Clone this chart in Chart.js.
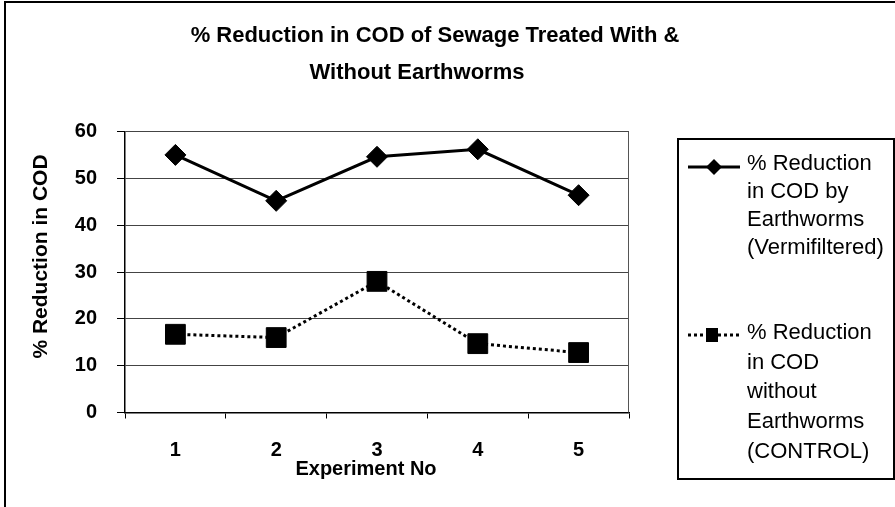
<!DOCTYPE html>
<html><head><meta charset="utf-8">
<script src="https://cdn.jsdelivr.net/npm/chart.js@4"></script>
<style>html,body{margin:0;padding:0;background:#fff;} #wrap{width:895px;height:507px;position:relative;}</style>
</head><body><div id="wrap"><canvas id="c" width="895" height="507"></canvas></div>
<script>
const categories = ['1', '2', '3', '4', '5'];
const withEarthworms = [55.0, 45.2, 54.6, 56.2, 46.4];
const controlValues = [16.7, 16.0, 28.0, 14.7, 12.8];
const yTicks = [0, 10, 20, 30, 40, 50, 60];
const legendLines1 = ['% Reduction', 'in COD by', 'Earthworms', '(Vermifiltered)'];
const legendLines2 = ['% Reduction', 'in COD', 'without', 'Earthworms', '(CONTROL)'];
const titleLines = ['% Reduction in COD of Sewage Treated With &', 'Without Earthworms'];
const xTitle = 'Experiment No';
const yTitle = '% Reduction in COD';

const FONT = '"Liberation Sans", Arial, Helvetica, sans-serif';

const decor = {
  id: 'decor',
  beforeDraw(chart) {
    const ctx = chart.ctx;
    ctx.save();
    ctx.fillStyle = '#fff';
    ctx.fillRect(0, 0, chart.width, chart.height);
    ctx.strokeStyle = '#000';
    ctx.lineWidth = 2;
    ctx.beginPath();
    ctx.moveTo(5, 507); ctx.lineTo(5, 2); ctx.lineTo(895, 2);
    ctx.stroke();
    ctx.restore();
  },
  beforeDatasetsDraw(chart) {
    const ctx = chart.ctx, a = chart.chartArea;
    ctx.save();
    ctx.strokeStyle = '#555';
    ctx.lineWidth = 1;
    ctx.beginPath();
    ctx.moveTo(a.right - 0.5, a.top); ctx.lineTo(a.right - 0.5, a.bottom);
    ctx.stroke();
    ctx.restore();
  },
  afterDraw(chart) {
    const ctx = chart.ctx;
    ctx.save();
    ctx.fillStyle = '#000';
    ctx.textBaseline = 'middle';
    ctx.textAlign = 'center';
    ctx.font = 'bold 22px ' + FONT;
    ctx.fillText(titleLines[0], 435, 36);
    ctx.fillText(titleLines[1], 417, 73);
    ctx.font = 'bold 20px ' + FONT;
    ctx.fillText(xTitle, 366, 469);
    ctx.save();
    ctx.translate(41, 256.5);
    ctx.rotate(-Math.PI / 2);
    ctx.font = 'bold 21px ' + FONT;
    ctx.fillText(yTitle, 0, 0);
    ctx.restore();

    // legend box
    ctx.strokeStyle = '#000';
    ctx.lineWidth = 2;
    ctx.strokeRect(678, 139, 216, 340);

    // entry 1
    ctx.lineWidth = 3;
    ctx.beginPath(); ctx.moveTo(688, 167); ctx.lineTo(740, 167); ctx.stroke();
    ctx.beginPath();
    ctx.moveTo(714 - 8, 167); ctx.lineTo(714, 167 - 8); ctx.lineTo(714 + 8, 167); ctx.lineTo(714, 167 + 8);
    ctx.closePath(); ctx.fill();
    // entry 2
    ctx.setLineDash([3, 3]);
    ctx.beginPath(); ctx.moveTo(688, 335); ctx.lineTo(742, 335); ctx.stroke();
    ctx.setLineDash([]);
    ctx.fillRect(712 - 6, 335 - 7, 12, 14);

    ctx.textAlign = 'left';
    ctx.font = '22px ' + FONT;
    legendLines1.forEach((t, i) => ctx.fillText(t, 747, 163.5 + i * 28.3));
    legendLines2.forEach((t, i) => ctx.fillText(t, 747, 333 + i * 29.7));
    ctx.restore();
  }
};

new Chart(document.getElementById('c'), {
  type: 'line',
  data: {
    labels: categories,
    datasets: [
      {
        label: legendLines1.join(' '),
        data: withEarthworms,
        borderColor: '#000',
        backgroundColor: '#000',
        borderWidth: 3,
        pointStyle: 'rectRot',
        pointRadius: 10.5,
        pointBackgroundColor: '#000',
        pointBorderColor: '#000',
        pointBorderWidth: 1,
        tension: 0
      },
      {
        label: legendLines2.join(' '),
        data: controlValues,
        borderColor: '#000',
        backgroundColor: '#000',
        borderWidth: 3,
        borderDash: [3, 3],
        pointStyle: 'rect',
        pointRadius: 14,
        pointBackgroundColor: '#000',
        pointBorderColor: '#000',
        pointBorderWidth: 1,
        tension: 0
      }
    ]
  },
  options: {
    responsive: false,
    animation: false,
    devicePixelRatio: 1,
    layout: { padding: { top: 131.5, right: 266, left: 0, bottom: 0 } },
    plugins: { legend: { display: false }, tooltip: { enabled: false }, title: { display: false } },
    scales: {
      x: {
        type: 'category',
        offset: true,
        grid: { offset: true, drawOnChartArea: false, tickLength: 6, color: '#000', lineWidth: 1 },
        border: { color: '#000', width: 1.5 },
        ticks: { color: '#000', font: { family: FONT, size: 20, weight: 'bold' }, padding: 20, maxRotation: 0 },
        afterFit(s) { s.height = 94.5; }
      },
      y: {
        min: 0, max: 60,
        afterBuildTicks(s) { s.ticks = yTicks.map(v => ({ value: v })); },
        grid: { color: '#444', lineWidth: 1, tickLength: 8, tickColor: '#000' },
        border: { color: '#000', width: 1.5 },
        ticks: { color: '#000', font: { family: FONT, size: 20, weight: 'bold' }, padding: 20 },
        afterFit(s) { s.width = 125; }
      }
    }
  },
  plugins: [decor]
});
</script>
</body></html>
